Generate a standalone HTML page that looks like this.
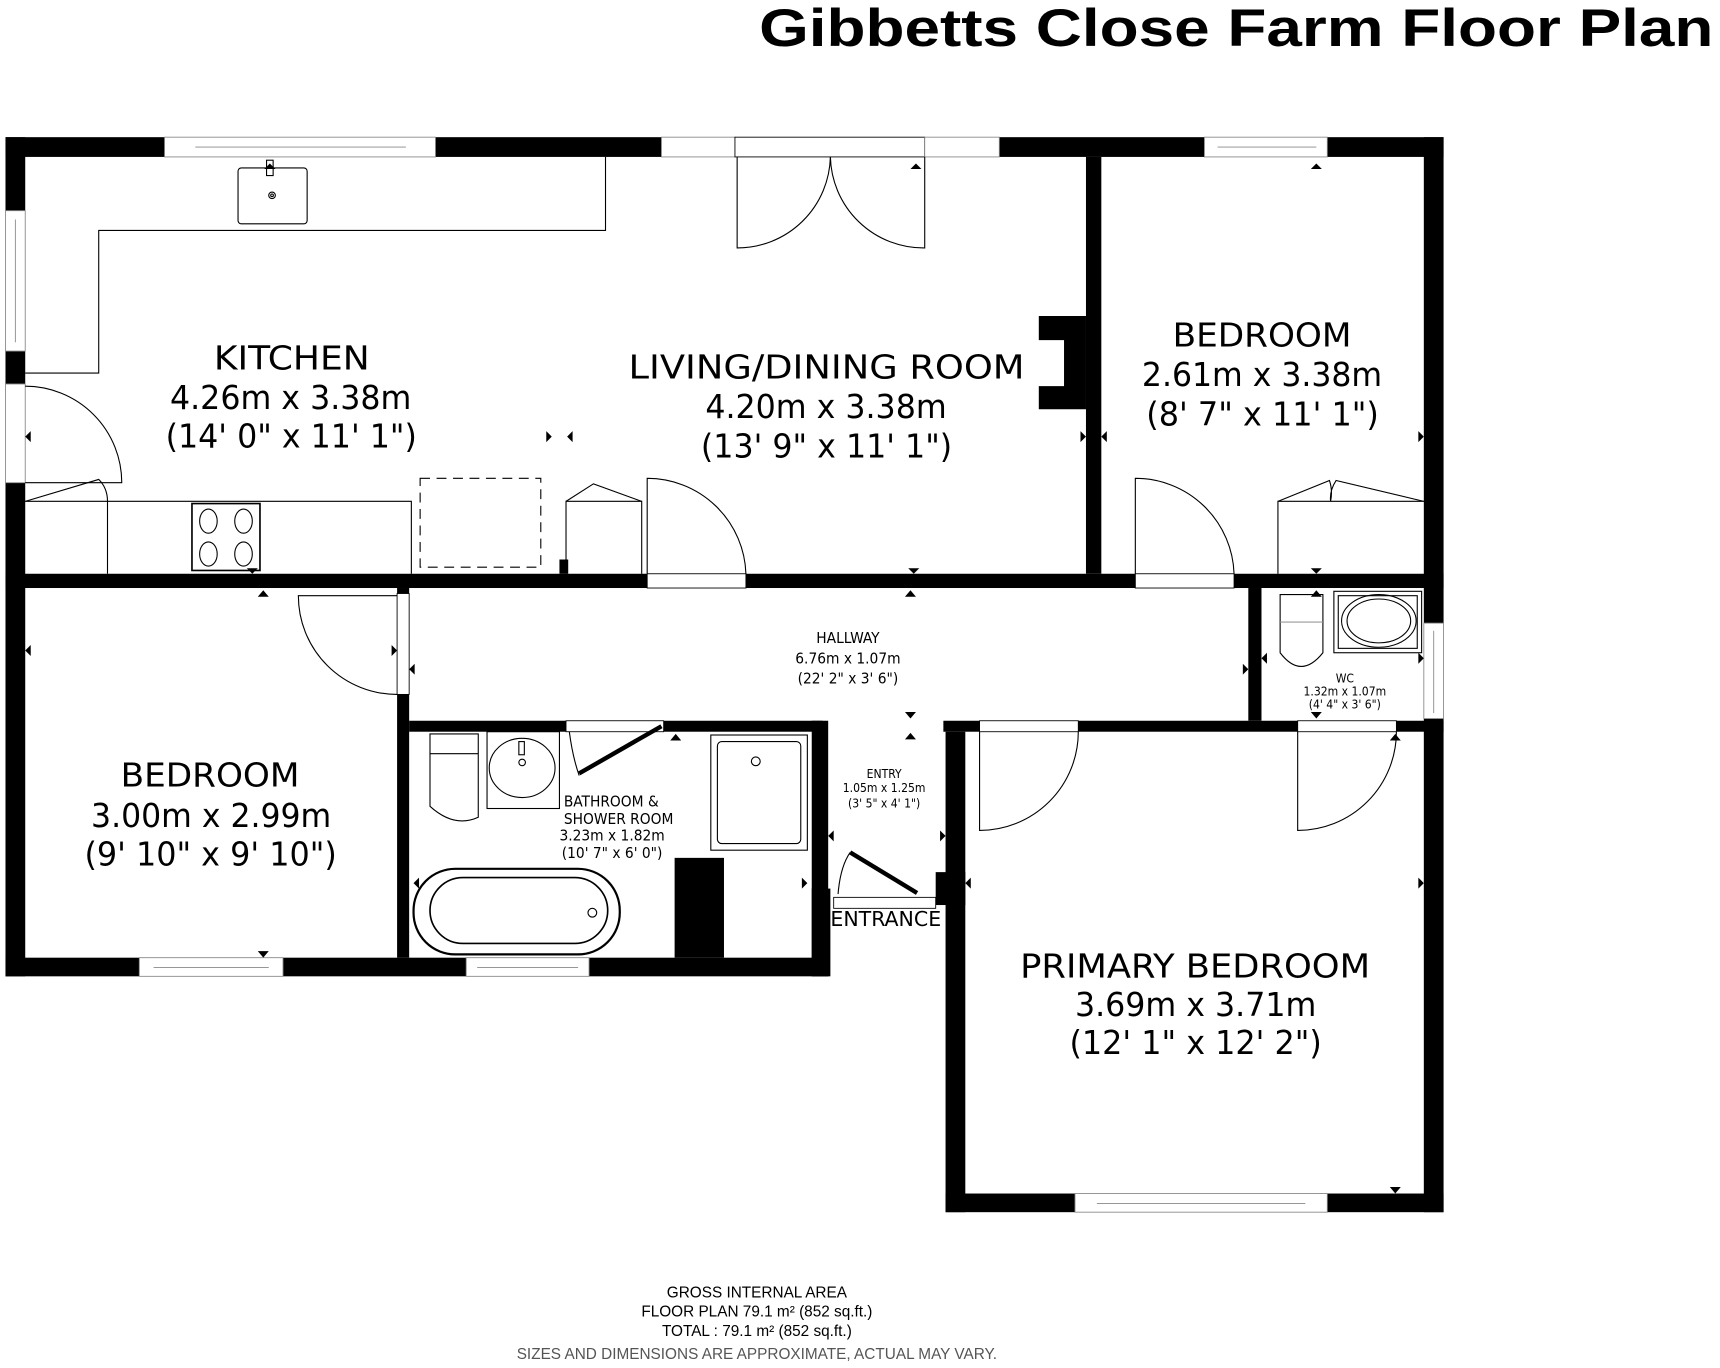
<!DOCTYPE html>
<html><head><meta charset="utf-8"><style>
html,body{margin:0;padding:0;background:#fff;}
svg{display:block;}
text{font-family:"DejaVu Sans Condensed","DejaVu Sans","Liberation Sans",sans-serif;fill:#000;}
.t{font-family:"Liberation Sans",sans-serif;font-weight:bold;}
.f{font-family:"Liberation Sans",sans-serif;}
</style></head><body>
<svg width="1720" height="1368" viewBox="0 0 1568 1247" xmlns="http://www.w3.org/2000/svg">
<rect width="1568" height="1247" fill="#fff"/>
<text class="t" x="1562" y="42" font-size="48" text-anchor="end" textLength="870" lengthAdjust="spacingAndGlyphs">Gibbetts Close Farm Floor Plan</text>

<g fill="#000">
<rect x="5" y="125" width="1311" height="18"/>
<rect x="5" y="125" width="18" height="765"/>
<rect x="1298" y="125" width="18" height="980"/>
<rect x="5" y="523" width="1311" height="13"/>
<rect x="990" y="143" width="14" height="380"/>
<path d="M947 288 H990 V373 H947 V352 H970 V310 H947 Z"/>
<rect x="5" y="873" width="750" height="17"/>
<rect x="362" y="536" width="11" height="337"/>
<rect x="373" y="657" width="377" height="10"/>
<rect x="740" y="657" width="15" height="233"/>
<rect x="615" y="782" width="45" height="91"/>
<rect x="860" y="657" width="456" height="10"/>
<rect x="1138" y="536" width="12" height="121"/>
<rect x="862" y="667" width="18" height="438"/>
<rect x="853" y="795" width="27" height="30"/>
<rect x="862" y="1088" width="454" height="17"/>
<rect x="740" y="810" width="17" height="80"/>
<rect x="510" y="510" width="8" height="13"/>
</g>

<g fill="#fff" stroke="#888" stroke-width="0.8">
<rect x="150" y="125" width="247" height="18"/><line x1="178" y1="134" x2="370" y2="134"/>
<rect x="603" y="125" width="67" height="18"/>
<rect x="670" y="125" width="173" height="18" stroke="#000"/>
<rect x="843" y="125" width="68" height="18"/>
<rect x="1098" y="125" width="112" height="18"/><line x1="1110" y1="134" x2="1200" y2="134"/>
<rect x="5" y="192" width="18" height="128"/><line x1="14" y1="200" x2="14" y2="312"/>
<rect x="5" y="350" width="18" height="90"/>
<rect x="590" y="523" width="90" height="13" stroke="#000"/>
<rect x="1035" y="523" width="90" height="13" stroke="#000"/>
<rect x="362" y="541" width="11" height="92" stroke="#000"/>
<rect x="127" y="873" width="131" height="17"/><line x1="140" y1="882" x2="245" y2="882"/>
<rect x="425" y="873" width="112" height="17"/><line x1="435" y1="882" x2="527" y2="882"/>
<rect x="516" y="657" width="89" height="10" stroke="#000"/>
<rect x="893" y="657" width="90" height="10" stroke="#000"/>
<rect x="1183" y="657" width="90" height="10" stroke="#000"/>
<rect x="1298" y="568" width="18" height="87"/><line x1="1307" y1="575" x2="1307" y2="650"/>
<rect x="980" y="1088" width="230" height="17"/><line x1="1000" y1="1097" x2="1190" y2="1097"/>
<rect x="760" y="818" width="93" height="10" stroke="#000"/>
</g>

<g fill="none" stroke="#000" stroke-width="1">
<path d="M23 340 H90 V210 H552 V143"/>
<rect x="217" y="153" width="63" height="51" rx="3"/>
<rect x="243" y="146" width="6" height="14"/>
<circle cx="248" cy="178" r="3"/><circle cx="248" cy="178" r="1.2"/>
<path d="M23 457 H375 V523 M98 457 V523"/>
<rect x="175" y="459" width="62" height="61" stroke-width="1.5"/>
<ellipse cx="190" cy="475" rx="8" ry="11"/><ellipse cx="222" cy="475" rx="8" ry="11"/>
<ellipse cx="190" cy="505" rx="8" ry="11"/><ellipse cx="222" cy="505" rx="8" ry="11"/>
<rect x="383" y="436" width="110" height="81" stroke-dasharray="9 6"/>
<path d="M516 523 V457 H585 V523"/>
<path d="M516 457 L541 441 L585 457"/>
<path d="M23 440 H111 A88 88 0 0 0 23 352"/>
<path d="M23 457 L90 437 Q98 445 98 457"/>
<path d="M672 143 V226 A85 85 0 0 0 757 143"/>
<path d="M843 143 V226 A85 85 0 0 1 757 143"/>
<path d="M590 523 V436 A90 90 0 0 1 680 523"/>
<path d="M1035 523 V436 A90 90 0 0 1 1125 523"/>
<path d="M1165 523 V457 H1298"/>
<path d="M1165 457 L1212 438 Q1215 447 1213 457 Q1212 447 1218 438 L1298 457"/>
<path d="M362 633 A90 90 0 0 1 272 543 H362"/>
<path d="M392 669 H436 V745 Q414 755 392 735 Z"/><line x1="392" y1="687" x2="436" y2="687"/>
<rect x="444" y="667" width="66" height="70"/>
<ellipse cx="476" cy="700" rx="30" ry="27"/><circle cx="476" cy="695" r="3"/><rect x="473" y="676" width="5" height="12"/>
<path d="M519 667 Q522 690 528 707"/>
<line x1="528" y1="705" x2="603" y2="662" stroke-width="4"/>
<rect x="648" y="670" width="88" height="105"/>
<rect x="654" y="676" width="76" height="93" rx="4"/>
<circle cx="689" cy="694" r="4"/>
<rect x="377" y="792" width="188" height="78" rx="38" stroke-width="2"/>
<rect x="392" y="800" width="162" height="60" rx="30" stroke-width="1.5"/>
<circle cx="540" cy="832" r="4"/>
<line x1="775" y1="777" x2="836" y2="814" stroke-width="4"/>
<path d="M764 815 Q766 790 775 777"/>
<path d="M893 667 V757 A90 90 0 0 0 983 667"/>
<path d="M1183 667 V757 A90 90 0 0 0 1273 667"/>
<path d="M1167 542 V595 Q1186 620 1206 595 V542 Z"/><line x1="1167" y1="567" x2="1206" y2="567" stroke="#999"/>
<rect x="1216" y="539" width="80" height="56"/>
<rect x="1220" y="543" width="72" height="48"/>
<ellipse cx="1257" cy="566" rx="34" ry="24"/>
<ellipse cx="1257" cy="566" rx="29" ry="20"/>
</g>

<g fill="#000">
<path d="M246 149 l-5 5 h10z"/><path d="M835 149 l-5 5 h10z"/><path d="M1200 149 l-5 5 h10z"/>
<path d="M23 398 l5 -5 v10z"/><path d="M503 398 l-5 -5 v10z"/><path d="M517 398 l5 -5 v10z"/>
<path d="M990 398 l-5 -5 v10z"/><path d="M1004 398 l5 -5 v10z"/><path d="M1298 398 l-5 -5 v10z"/>
<path d="M230 523 l-5 -5 h10z"/><path d="M833 523 l-5 -5 h10z"/><path d="M1200 523 l-5 -5 h10z"/>
<path d="M240 538 l-5 6 h10z"/><path d="M830 538 l-5 6 h10z"/><path d="M1200 538 l-5 6 h10z"/>
<path d="M23 593 l5 -5 v10z"/><path d="M362 593 l-5 -5 v10z"/><path d="M373 610 l5 -5 v10z"/>
<path d="M1138 610 l-5 -5 v10z"/><path d="M1150 600 l5 -5 v10z"/><path d="M1298 600 l-5 -5 v10z"/>
<path d="M830 655 l-5 -6 h10z"/><path d="M830 668 l-5 6 h10z"/><path d="M1200 655 l-5 -6 h10z"/>
<path d="M616 669 l-5 6 h10z"/><path d="M1272 669 l-5 6 h10z"/>
<path d="M240 873 l-5 -6 h10z"/><path d="M1272 1088 l-5 -6 h10z"/>
<path d="M377 805 l5 -5 v10z"/><path d="M736 805 l-5 -5 v10z"/>
<path d="M755 762 l5 -5 v10z"/><path d="M862 762 l-5 -5 v10z"/>
<path d="M880 805 l5 -5 v10z"/><path d="M1298 805 l-5 -5 v10z"/>
</g>

<g font-size="30" lengthAdjust="spacingAndGlyphs">
<text x="195" y="337" textLength="142" lengthAdjust="spacingAndGlyphs">KITCHEN</text>
<text x="155" y="373" textLength="220" lengthAdjust="spacingAndGlyphs">4.26m x 3.38m</text>
<text x="151" y="408" textLength="229" lengthAdjust="spacingAndGlyphs">(14' 0" x 11' 1")</text>
<text x="573" y="345" textLength="361" lengthAdjust="spacingAndGlyphs">LIVING/DINING ROOM</text>
<text x="643" y="381" textLength="220" lengthAdjust="spacingAndGlyphs">4.20m x 3.38m</text>
<text x="639" y="417" textLength="229" lengthAdjust="spacingAndGlyphs">(13' 9" x 11' 1")</text>
<text x="1069" y="316" textLength="163" lengthAdjust="spacingAndGlyphs">BEDROOM</text>
<text x="1041" y="352" textLength="219" lengthAdjust="spacingAndGlyphs">2.61m x 3.38m</text>
<text x="1045" y="388" textLength="212" lengthAdjust="spacingAndGlyphs">(8' 7" x 11' 1")</text>
<text x="110" y="717" textLength="163" lengthAdjust="spacingAndGlyphs">BEDROOM</text>
<text x="83" y="754" textLength="219" lengthAdjust="spacingAndGlyphs">3.00m x 2.99m</text>
<text x="77" y="789" textLength="230" lengthAdjust="spacingAndGlyphs">(9' 10" x 9' 10")</text>
<text x="930" y="891" textLength="319" lengthAdjust="spacingAndGlyphs">PRIMARY BEDROOM</text>
<text x="980" y="926" textLength="220" lengthAdjust="spacingAndGlyphs">3.69m x 3.71m</text>
<text x="975" y="961" textLength="230" lengthAdjust="spacingAndGlyphs">(12' 1" x 12' 2")</text>
</g>
<g text-anchor="middle" font-size="14">
<text x="773" y="586">HALLWAY</text>
<text x="773" y="605">6.76m x 1.07m</text>
<text x="773" y="623">(22' 2" x 3' 6")</text>
<text x="558" y="766">3.23m x 1.82m</text>
<text x="558" y="782">(10' 7" x 6' 0")</text>
</g>
<g font-size="14">
<text x="514" y="735">BATHROOM &amp;</text>
<text x="514" y="751">SHOWER ROOM</text>
</g>
<g text-anchor="middle" font-size="11">
<text x="806" y="709">ENTRY</text>
<text x="806" y="722">1.05m x 1.25m</text>
<text x="806" y="736">(3' 5" x 4' 1")</text>
<text x="1226" y="622">WC</text>
<text x="1226" y="634">1.32m x 1.07m</text>
<text x="1226" y="646">(4' 4" x 3' 6")</text>
</g>
<text x="757" y="844" font-size="19" textLength="101" lengthAdjust="spacingAndGlyphs">ENTRANCE</text>
<g text-anchor="middle" font-size="14">
<text class="f" x="690" y="1183">GROSS INTERNAL AREA</text>
<text class="f" x="690" y="1200">FLOOR PLAN 79.1 m² (852 sq.ft.)</text>
<text class="f" x="690" y="1218">TOTAL :  79.1 m² (852 sq.ft.)</text>
<text class="f" x="690" y="1239" style="fill:#555">SIZES AND DIMENSIONS ARE APPROXIMATE, ACTUAL MAY VARY.</text>
</g>
</svg>
</body></html>
